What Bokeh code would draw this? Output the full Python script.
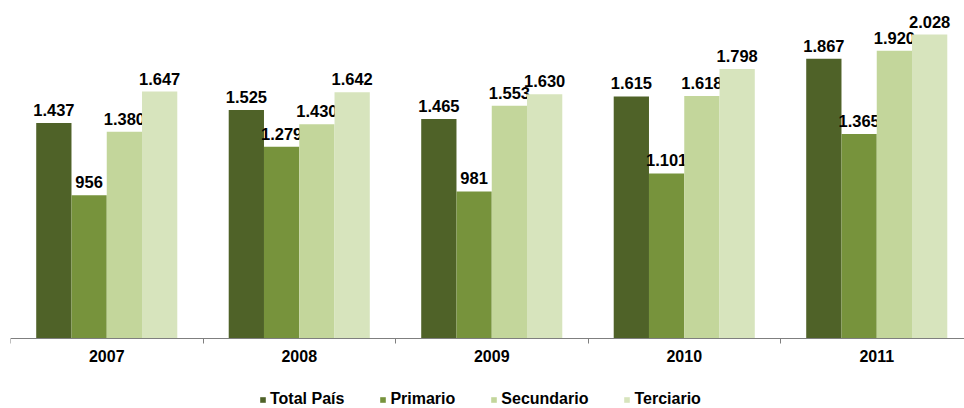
from bokeh.plotting import figure
from bokeh.models import ColumnDataSource, Range1d, FixedTicker, Legend, LegendItem
from bokeh.transform import dodge
from bokeh.core.properties import value
from bokeh.embed import file_html
from bokeh.resources import INLINE

years = ["2007", "2008", "2009", "2010", "2011"]
series = ["Total País", "Primario", "Secundario", "Terciario"]
total_pais = [1437, 1525, 1465, 1615, 1867]
primario = [956, 1279, 981, 1101, 1365]
secundario = [1380, 1430, 1553, 1618, 1920]
terciario = [1647, 1642, 1630, 1798, 2028]
colors = ["#4F6228", "#77933C", "#C3D69B", "#D7E4BD"]

FONT = value("Liberation Sans")
cols = ["s0", "s1", "s2", "s3"]
vals = [total_pais, primario, secundario, terciario]

data = {"idx": list(range(len(years)))}
for c, v in zip(cols, vals):
    data[c] = v
    data[c + "_lbl"] = [f"{x:,}".replace(",", ".") for x in v]
src = ColumnDataSource(data)

W, H = 964, 408
LEFT = 10
BASE = 338            # pixel row of the value axis baseline
frame_w = W - LEFT
cat_px = 192.5
px_per_unit = 0.1499
p = figure(width=W, height=H, output_backend="svg", toolbar_location=None,
           x_range=Range1d(-0.5, -0.5 + frame_w / cat_px),
           y_range=Range1d(-(H - BASE) / px_per_unit, BASE / px_per_unit),
           min_border_left=LEFT, min_border_right=0, min_border_top=0,
           min_border_bottom=0)
p.yaxis.visible = False
p.grid.visible = False
p.outline_line_color = None

bw = 0.1832
offsets = [-1.5 * bw, -0.5 * bw, 0.5 * bw, 1.5 * bw]
items = []
for c, off, col, name in zip(cols, offsets, colors, series):
    r = p.vbar(x=dodge("idx", off, range=p.x_range), top=c, width=bw, bottom=0,
               source=src, fill_color=col, line_color=None)
    p.text(x=dodge("idx", off, range=p.x_range), y=c,
           text=c + "_lbl", source=src, y_offset=-7,
           text_align="center", text_baseline="bottom",
           text_font=FONT, text_font_style="bold", text_font_size="16.5px",
           text_color="#000000")
    items.append(LegendItem(label=name, renderers=[r]))

ax = p.xaxis[0]
ax.fixed_location = 0
ax.ticker = FixedTicker(ticks=list(range(len(years))),
                        minor_ticks=[i - 0.5 for i in range(len(years) + 1)])
ax.major_label_overrides = {i: y for i, y in enumerate(years)}
ax.major_tick_line_color = None
ax.major_tick_out = 5
ax.major_tick_in = 0
ax.minor_tick_out = 5
ax.minor_tick_in = 0
ax.minor_tick_line_color = "#7F7F7F"
ax.axis_line_color = "#7F7F7F"
ax.major_label_standoff = 6
ax.major_label_text_font = "Liberation Sans"
ax.major_label_text_font_style = "bold"
ax.major_label_text_font_size = "16px"
ax.major_label_text_color = "#000000"

legend = Legend(items=items, orientation="horizontal", location=(249, 0),
                padding=0, margin=0, border_line_color=None, background_fill_alpha=0,
                glyph_width=7, glyph_height=7, label_standoff=4, spacing=35,
                label_height=16, label_text_font="Liberation Sans",
                label_text_font_style="bold", label_text_font_size="16px",
                label_text_color="#000000")
p.add_layout(legend)

open("out.html", "w").write(file_html(p, INLINE))
